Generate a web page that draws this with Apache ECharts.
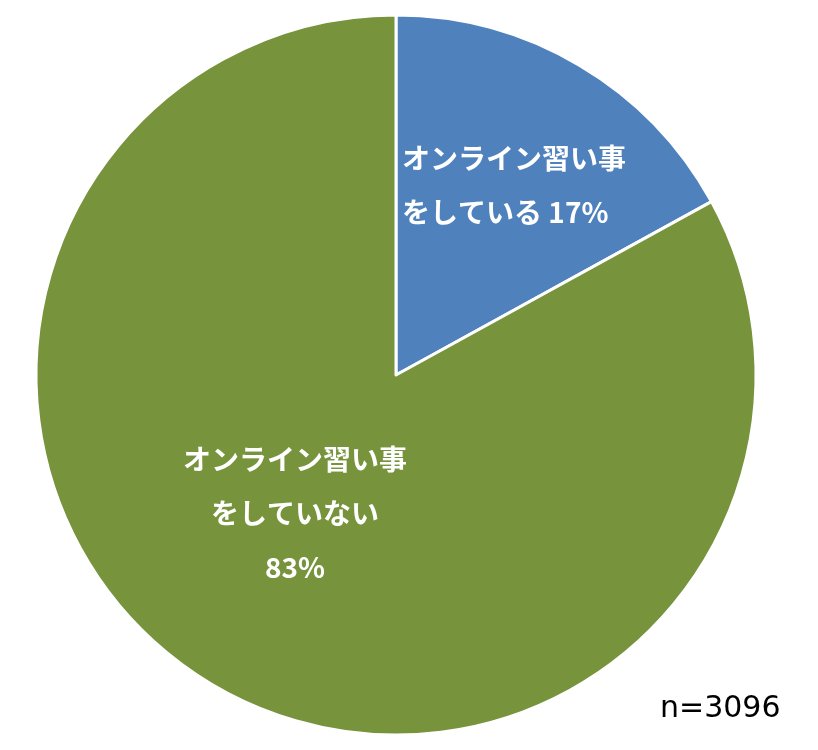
<!DOCTYPE html>
<html>
<head>
<meta charset="utf-8">
<script src="https://cdn.jsdelivr.net/npm/echarts@6/dist/echarts.min.js"></script>
<style>html,body{margin:0;padding:0;background:#fff;}#c{width:818px;height:750px;}</style>
</head>
<body>
<div id="c"></div>
<script>
const categories = ["オンライン習い事をしている", "オンライン習い事をしていない"];
const labelTexts = ["オンライン習い事\nをしている {v}%", "オンライン習い事\nをしていない\n{v}%"];
const values = [17, 83];
const sampleNote = "n=3096";
const colors = ["#4F81BD", "#77933C"];

const chart = echarts.init(document.getElementById('c'), null, {renderer: 'canvas'});
const labelPos = [
  {x: 402, y: 185, align: 'left'},
  {x: 295, y: 513, align: 'center'}
];
chart.setOption({
  animation: false,
  series: [{
    type: 'pie',
    center: [396, 375],
    radius: 360,
    startAngle: 90,
    clockwise: true,
    itemStyle: {borderColor: '#fff', borderWidth: 3},
    label: {
      show: true,
      position: 'inside',
      color: '#fff',
      fontFamily: '"Noto Sans CJK JP", sans-serif',
      fontWeight: 'bold',
      fontSize: 28,
      lineHeight: 54,
      formatter: p => labelTexts[p.dataIndex].replace('{v}', p.value)
    },
    labelLayout: p => ({x: labelPos[p.dataIndex].x, y: labelPos[p.dataIndex].y, align: labelPos[p.dataIndex].align, verticalAlign: 'middle'}),
    emphasis: {disabled: true},
    data: categories.map((c, i) => ({name: c, value: values[i], itemStyle: {color: colors[i]}}))
  }],
  graphic: [{
    type: 'text',
    left: 660,
    top: 694,
    style: {text: sampleNote, font: '30px "DejaVu Sans", sans-serif', fill: '#000'}
  }]
});
</script>
</body>
</html>
